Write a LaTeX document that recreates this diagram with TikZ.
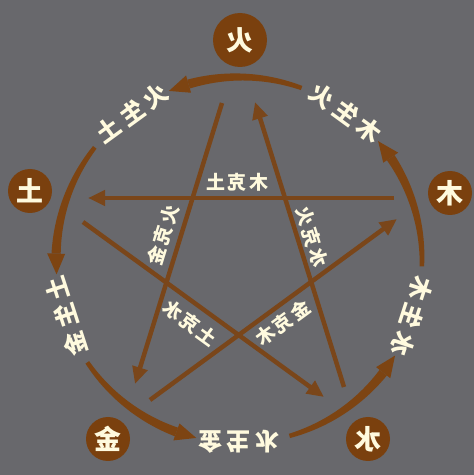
\documentclass[tikz,border=0pt]{standalone}
\usepackage{fontspec}
\usepackage{graphicx}
\usetikzlibrary{arrows.meta}
\newfontfamily\cjk{Noto Sans CJK SC}
\definecolor{bg}{RGB}{104,104,108}
\definecolor{elbrown}{RGB}{122,64,14}
\definecolor{arcbrown}{RGB}{125,68,18}
\definecolor{linebrown}{RGB}{122,70,26}
\definecolor{cream}{RGB}{255,250,222}
\newcommand{\mirtext}[1]{\reflectbox{#1}}
\newcommand{\gapA}{\hspace{5pt}}
\newcommand{\gapB}{\hspace{2.5pt}}
\newcommand{\wxarc}[1]{%
  \fill[arcbrown, shift={(O)}] plot[domain=#1:#1+36, samples=37] (\x:{183+2.2+2.4*(\x-#1)/36})
     -- plot[domain=#1+36:#1, samples=37] (\x:{183-2.2-2.4*(\x-#1)/36}) -- cycle;
  \fill[arcbrown, shift={(O)}] (#1+36:192) -- (#1+42.5:183) -- (#1+36:174) -- cycle;
}
\begin{document}
\begin{tikzpicture}[x=1pt,y=1pt,
  element/.style={circle, fill=elbrown, minimum size=44pt, inner sep=0pt, text=cream,
    font=\cjk\bfseries\fontsize{27}{27}\selectfont},
  arclabel/.style={text=cream, font=\cjk\bfseries\fontsize{24}{24}\selectfont, inner sep=0pt},
  starlabel/.style={text=cream, font=\cjk\bfseries\fontsize{19}{19}\selectfont, inner sep=0pt},
  starline/.style={draw=linebrown, line width=4.5pt, -{Triangle[length=17pt,width=15pt]}},
]
\fill[bg] (0,0) rectangle (474,475);
\useasboundingbox (0,0) rectangle (474,475);
\coordinate (O) at (239,215);

% element circles
\node[element, minimum size=54pt] (fire) at (240,435) {\mirtext{火}};
\node[element] (wood)  at (450,282) {\mirtext{木}};
\node[element] (earth) at (30,284)  {\mirtext{土}};
\node[element] (metal) at (108,36)  {\mirtext{金}};
\node[element] (water) at (368,36)  {\mirtext{水}};

% generating cycle arcs
\wxarc{70}
\wxarc{142}
\wxarc{214}
\wxarc{286}
\wxarc{358}

% arc labels
\node[arclabel, rotate=36]  (g1) at ([shift={(126:182)}]O) {\mirtext{火\gapA 生\gapA 土}};
\node[arclabel, rotate=108] (g2) at ([shift={(198:182)}]O) {\mirtext{土\gapA 生\gapA 金}};
\node[arclabel, rotate=180] (g3) at ([shift={(270:182)}]O) {\mirtext{金\gapA 生\gapA 水}};
\node[arclabel, rotate=252] (g4) at ([shift={(342:182)}]O) {\mirtext{水\gapA 生\gapA 木}};
\node[arclabel, rotate=-36] (g5) at ([shift={(54:182)}]O)  {\mirtext{木\gapA 生\gapA 火}};

% star (overcoming cycle)
\coordinate (a1) at (394,277); \coordinate (a2) at (88,277);
\coordinate (b1) at (83,253);  \coordinate (b2) at (324,78);
\coordinate (c1) at (344,88);  \coordinate (c2) at (255,373);
\coordinate (d1) at (222,372); \coordinate (d2) at (135,91);
\coordinate (e1) at (150,75);  \coordinate (e2) at (397,256);
\draw[starline] (a1) -- (a2);
\draw[starline] (b1) -- (b2);
\draw[starline] (c1) -- (c2);
\draw[starline] (d1) -- (d2);
\draw[starline] (e1) -- (e2);

\node[starlabel, rotate=0]     (k1) at (237,293) {\mirtext{木\gapB 克\gapB 土}};
\node[starlabel, rotate=72.8]  (k2) at (163,240) {\mirtext{火\gapB 克\gapB 金}};
\node[starlabel, rotate=-72.7] (k3) at (312,238) {\mirtext{水\gapB 克\gapB 火}};
\node[starlabel, rotate=-36]   (k4) at (190,152) {\mirtext{土\gapB 克\gapB 水}};
\node[starlabel, rotate=36.2]  (k5) at (283,152) {\mirtext{金\gapB 克\gapB 木}};
\end{tikzpicture}
\end{document}
